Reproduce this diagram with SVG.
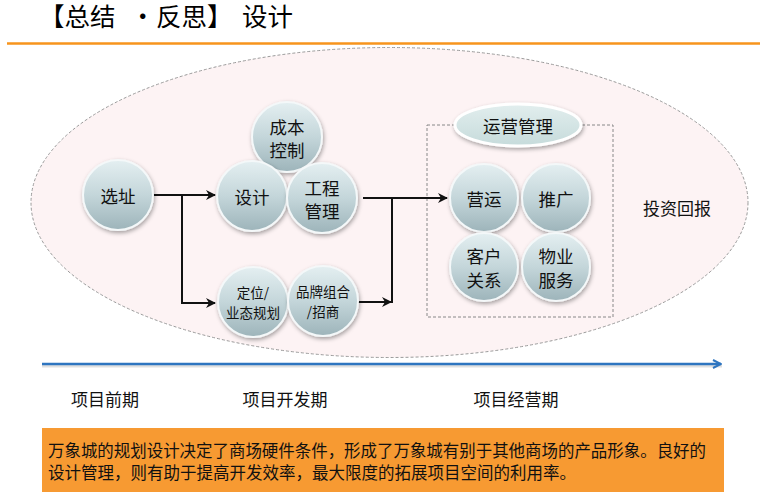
<svg xmlns="http://www.w3.org/2000/svg" width="760" height="503" viewBox="0 0 760 503">
<defs>
<style>
text{font-family:"Noto Sans CJK SC","Liberation Sans",sans-serif;fill:#111;}
.c{text-anchor:middle;dominant-baseline:central;}
.ball{fill:url(#g);stroke:#f4f8f9;stroke-width:2;filter:url(#sh);}
.conn{fill:none;stroke:#111;stroke-width:2;}
.big{font-size:17.5px;}
.sm{font-size:13.5px;}
</style>
<linearGradient id="g" x1="0" y1="0" x2="0" y2="1">
<stop offset="0" stop-color="#e4eff1"/>
<stop offset="0.5" stop-color="#c4d6da"/>
<stop offset="1" stop-color="#9db4ba"/>
</linearGradient>
<linearGradient id="g2" x1="0" y1="0" x2="0" y2="1">
<stop offset="0" stop-color="#e2eeee"/>
<stop offset="1" stop-color="#c6dbdb"/>
</linearGradient>
<filter id="sh" x="-30%" y="-30%" width="160%" height="160%">
<feDropShadow dx="1" dy="2" stdDeviation="2" flood-color="#000" flood-opacity="0.35"/>
</filter>
<marker id="ah" viewBox="0 0 10 10" refX="9" refY="5" markerWidth="5" markerHeight="5" orient="auto" markerUnits="strokeWidth">
<path d="M0,0 L10,5 L0,10 L3,5 z" fill="#111"/>
</marker>
<marker id="bh" viewBox="0 0 10 10" refX="9" refY="5" markerWidth="4" markerHeight="4" orient="auto" markerUnits="strokeWidth">
<path d="M1,1 L9,5 L1,9" fill="none" stroke="#2e75c0" stroke-width="2"/>
</marker>
</defs>
<rect width="760" height="503" fill="#fff"/>
<text y="26" style="font-size:25.5px;fill:#000;"><tspan x="39">【总结</tspan><tspan x="130">·</tspan><tspan x="156">反思】</tspan><tspan x="242">设计</tspan></text>
<line x1="7" y1="43.5" x2="760" y2="43.5" stroke="#f7941d" stroke-width="2.5"/>
<ellipse cx="389.5" cy="202.5" rx="358.5" ry="155" fill="#fdf3f4" stroke="#9a9a9a" stroke-width="1" stroke-dasharray="3,2"/>
<rect x="427" y="125" width="186" height="192" fill="none" stroke="#888" stroke-width="1" stroke-dasharray="3,2"/>
<g id="connectors">
<path class="conn" d="M153,195 H215" marker-end="url(#ah)"/>
<path class="conn" d="M182,195 V303 H215" marker-end="url(#ah)"/>
<path class="conn" d="M363,198 H447" marker-end="url(#ah)"/>
<path class="conn" d="M392,198 V303"/>
<path class="conn" d="M358,302 H391" marker-end="url(#ah)"/>
<line x1="42" y1="366" x2="722" y2="366" stroke="#000" stroke-opacity="0.12" stroke-width="3"/>
<path d="M42,364 H721" fill="none" stroke="#2e75c0" stroke-width="2.5" marker-end="url(#bh)"/>
</g>
<g id="n-xuanzhi"><circle class="ball" cx="118" cy="195" r="35"/><text class="c big" x="118" y="195">选址</text></g>
<g id="n-chengben"><circle class="ball" cx="287" cy="137" r="35"/><text class="c big" x="287" y="126">成本</text><text class="c big" x="287" y="149">控制</text></g>
<g id="n-sheji"><circle class="ball" cx="252" cy="196" r="35"/><text class="c big" x="252" y="196">设计</text></g>
<g id="n-gongcheng"><circle class="ball" cx="322" cy="198" r="35"/><text class="c big" x="322" y="187">工程</text><text class="c big" x="322" y="210">管理</text></g>
<g id="n-dingwei"><circle class="ball" cx="253" cy="302" r="35"/><text class="c sm" x="253" y="292">定位/</text><text class="c sm" x="253" y="312">业态规划</text></g>
<g id="n-pinpai"><circle class="ball" cx="323" cy="301" r="35"/><text class="c sm" x="323" y="291">品牌组合</text><text class="c sm" x="323" y="311">/招商</text></g>
<g id="n-yunying"><ellipse cx="518" cy="125" rx="63" ry="21" fill="url(#g2)" stroke="#fff" stroke-width="3" filter="url(#sh)"/><text class="c big" x="518" y="125">运营管理</text></g>
<g id="n-yingyun"><circle class="ball" cx="484" cy="198" r="34"/><text class="c big" x="484" y="198">营运</text></g>
<g id="n-tuiguang"><circle class="ball" cx="556" cy="198" r="34"/><text class="c big" x="556" y="198">推广</text></g>
<g id="n-kehu"><circle class="ball" cx="484" cy="267" r="34"/><text class="c big" x="484" y="255">客户</text><text class="c big" x="484" y="279">关系</text></g>
<g id="n-wuye"><circle class="ball" cx="556" cy="267" r="34"/><text class="c big" x="556" y="255">物业</text><text class="c big" x="556" y="279">服务</text></g>
<g id="n-touzi"><text class="c" x="677" y="207" style="font-size:17px;">投资回报</text></g>
<g id="labels">
<text class="c" x="105" y="398" style="font-size:17px;">项目前期</text>
<text class="c" x="285" y="398" style="font-size:17px;">项目开发期</text>
<text class="c" x="516" y="398" style="font-size:17px;">项目经营期</text>
</g>
<g id="note">
<rect x="42" y="428" width="682" height="64" fill="#f79a32"/>
<text x="48" y="450" dominant-baseline="central" style="font-size:16.5px;" textLength="658" lengthAdjust="spacingAndGlyphs">万象城的规划设计决定了商场硬件条件，形成了万象城有别于其他商场的产品形象。良好的</text>
<text x="48" y="472" dominant-baseline="central" style="font-size:16.5px;">设计管理，则有助于提高开发效率，最大限度的拓展项目空间的利用率。</text>
</g>
</svg>
